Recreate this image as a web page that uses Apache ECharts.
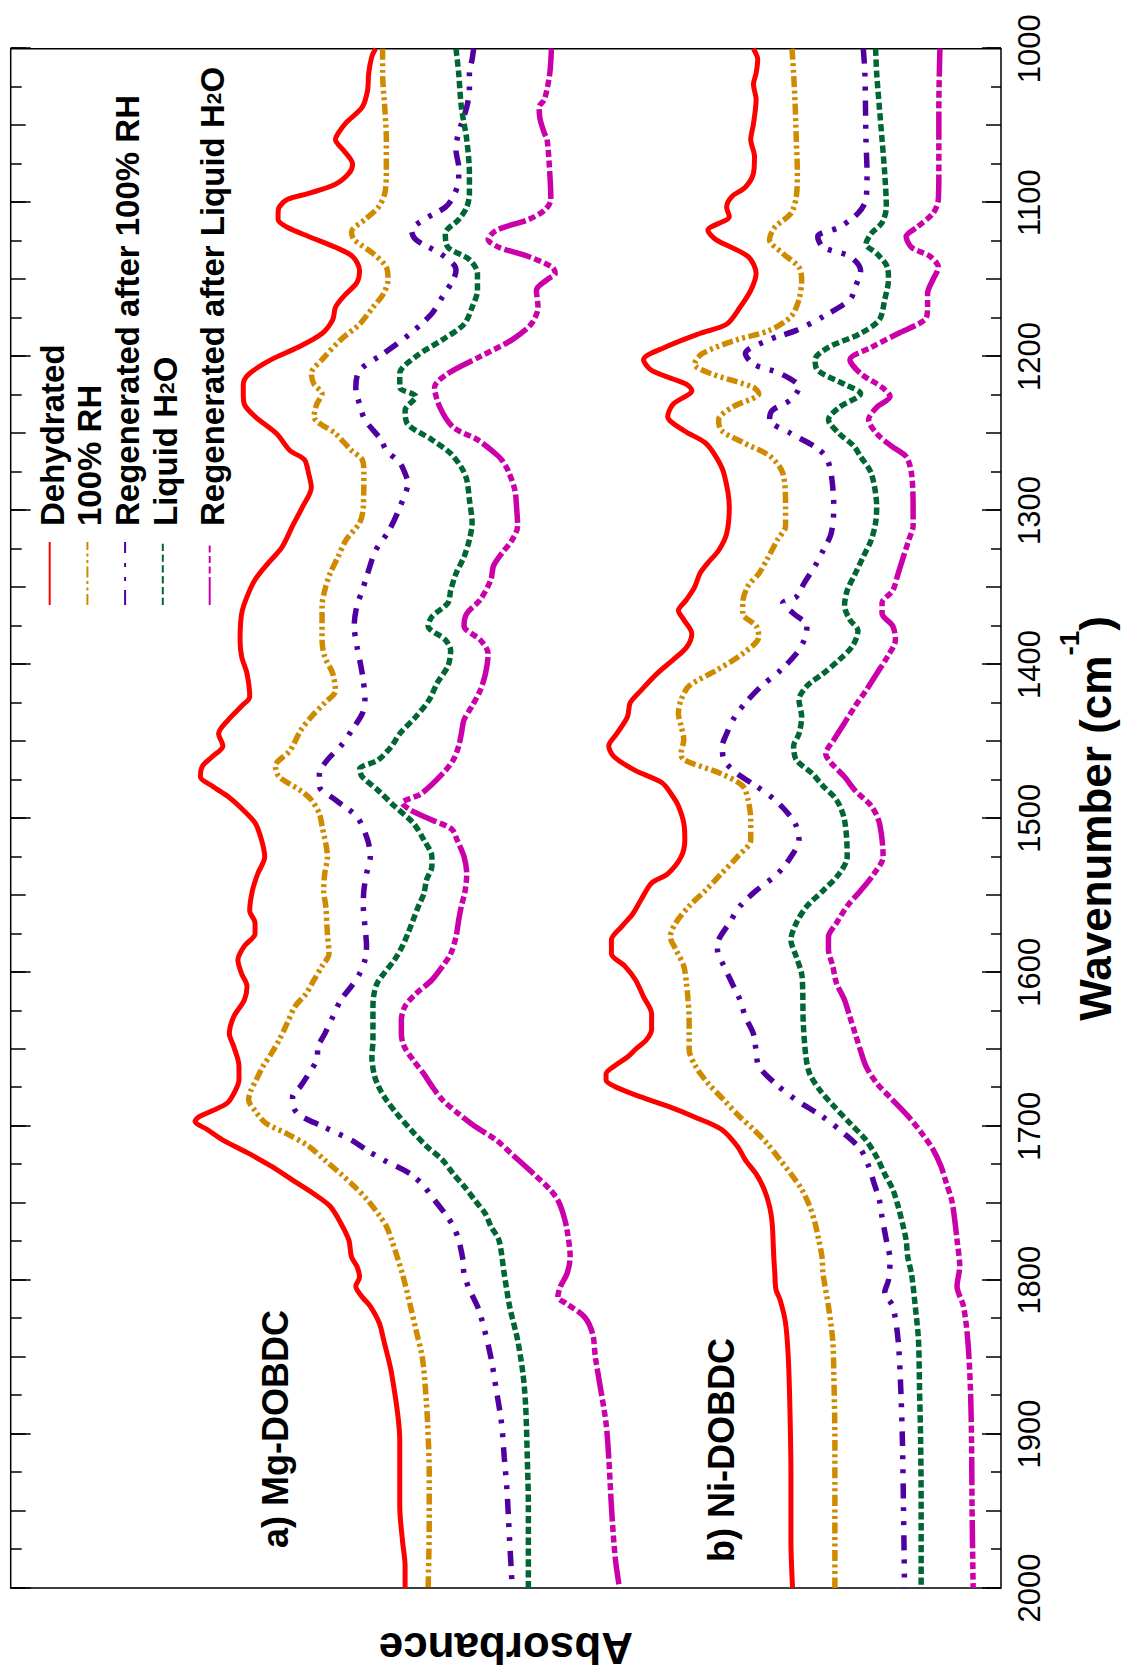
<!DOCTYPE html>
<html>
<head>
<meta charset="utf-8">
<title>FTIR spectra of Mg-DOBDC and Ni-DOBDC</title>
<script src="https://cdn.jsdelivr.net/npm/echarts@6/dist/echarts.min.js"></script>
<style>
  html, body { margin: 0; padding: 0; background: #fff; }
  #page { position: relative; width: 1124px; height: 1677px; overflow: hidden; background: #fff; }
  /* The spectrum is laid out in landscape and turned a quarter turn counter-clockwise */
  #chart {
    position: absolute; left: 0; top: 0;
    width: 1677px; height: 1124px;
    transform-origin: 0 0;
    transform: translate(0px, 1677px) rotate(-90deg);
  }
</style>
</head>
<body>
<div id="page"><div id="chart"></div></div>
<script>
// Wavenumber range (cm-1) and tick steps
const wnMin = 1000, wnMax = 2000;
const wnMajor = 100, wnMid = 50;

// Legend names
const names = ['Dehydrated', '100% RH', 'Regenerated after 100% RH', 'Liquid H2O', 'Regenerated after Liquid H2O'];

// ---- Mg-DOBDC spectra: [wavenumber, absorbance (a.u., stacked)] ----
const mgDehydrated = [[1000,1.167],[1005,1.174],[1016,1.180],[1027,1.182],[1038,1.192],[1048,1.222],[1055,1.237],[1059,1.242],[1066,1.227],[1075,1.210],[1081,1.217],[1088,1.242],[1094,1.292],[1098,1.332],[1103,1.347],[1107,1.349],[1111,1.349],[1116,1.332],[1122,1.292],[1129,1.242],[1135,1.210],[1144,1.197],[1152,1.202],[1161,1.227],[1168,1.242],[1176,1.247],[1185,1.267],[1194,1.312],[1202,1.362],[1211,1.402],[1218,1.414],[1224,1.414],[1231,1.412],[1239,1.392],[1250,1.352],[1261,1.327],[1267,1.300],[1276,1.292],[1285,1.287],[1298,1.304],[1310,1.322],[1324,1.342],[1334,1.367],[1345,1.392],[1356,1.407],[1367,1.417],[1384,1.420],[1395,1.417],[1406,1.407],[1421,1.402],[1427,1.417],[1436,1.442],[1445,1.460],[1453,1.452],[1460,1.472],[1466,1.490],[1473,1.494],[1479,1.472],[1486,1.442],[1492,1.422],[1503,1.392],[1514,1.380],[1525,1.374],[1536,1.387],[1547,1.397],[1560,1.402],[1568,1.392],[1575,1.392],[1583,1.412],[1592,1.424],[1601,1.417],[1609,1.407],[1618,1.412],[1629,1.432],[1640,1.440],[1648,1.432],[1661,1.422],[1670,1.422],[1679,1.432],[1685,1.444],[1690,1.472],[1694,1.497],[1697,1.504],[1702,1.482],[1709,1.452],[1718,1.402],[1726,1.362],[1735,1.322],[1744,1.282],[1752,1.252],[1763,1.232],[1774,1.217],[1785,1.212],[1791,1.202],[1798,1.197],[1804,1.204],[1811,1.192],[1817,1.177],[1828,1.160],[1839,1.152],[1861,1.137],[1904,1.122],[1947,1.122],[1969,1.117],[1986,1.112],[2000,1.112]];

const mgRH100 = [[1000,1.154],[1016,1.154],[1038,1.150],[1059,1.147],[1081,1.147],[1094,1.150],[1103,1.162],[1111,1.187],[1119,1.212],[1124,1.207],[1133,1.172],[1142,1.147],[1150,1.144],[1159,1.152],[1168,1.172],[1179,1.197],[1189,1.232],[1202,1.267],[1211,1.287],[1218,1.282],[1224,1.267],[1231,1.277],[1239,1.282],[1250,1.242],[1261,1.212],[1267,1.192],[1276,1.189],[1298,1.190],[1308,1.197],[1319,1.222],[1330,1.237],[1341,1.252],[1352,1.262],[1362,1.267],[1384,1.267],[1395,1.262],[1406,1.247],[1417,1.242],[1425,1.262],[1434,1.287],[1443,1.307],[1456,1.327],[1466,1.354],[1473,1.347],[1482,1.307],[1488,1.287],[1497,1.272],[1505,1.267],[1525,1.257],[1536,1.262],[1547,1.264],[1557,1.260],[1575,1.257],[1588,1.254],[1596,1.267],[1605,1.282],[1614,1.297],[1622,1.317],[1633,1.332],[1644,1.347],[1653,1.362],[1661,1.377],[1670,1.390],[1677,1.400],[1683,1.404],[1690,1.392],[1698,1.372],[1705,1.332],[1713,1.292],[1722,1.262],[1731,1.232],[1739,1.207],[1748,1.182],[1757,1.162],[1765,1.147],[1774,1.137],[1796,1.117],[1817,1.102],[1832,1.092],[1850,1.080],[1871,1.074],[1893,1.070],[1926,1.067],[1958,1.067],[2000,1.069]];

const mgRegenRH = [[1000,0.984],[1007,0.987],[1016,0.992],[1027,0.992],[1038,0.997],[1049,1.007],[1057,1.014],[1066,1.017],[1077,1.012],[1085,1.012],[1096,1.022],[1103,1.037],[1111,1.077],[1118,1.100],[1124,1.092],[1133,1.047],[1140,1.022],[1144,1.017],[1150,1.022],[1161,1.042],[1172,1.062],[1185,1.102],[1198,1.152],[1209,1.197],[1220,1.204],[1231,1.197],[1241,1.187],[1254,1.157],[1261,1.147],[1269,1.122],[1276,1.112],[1282,1.107],[1298,1.122],[1313,1.142],[1326,1.167],[1341,1.182],[1352,1.192],[1362,1.202],[1375,1.207],[1388,1.202],[1406,1.192],[1423,1.187],[1432,1.192],[1443,1.212],[1453,1.232],[1462,1.257],[1471,1.272],[1479,1.272],[1488,1.242],[1499,1.202],[1514,1.182],[1525,1.177],[1536,1.184],[1547,1.189],[1557,1.190],[1570,1.187],[1583,1.184],[1592,1.187],[1601,1.197],[1609,1.212],[1618,1.232],[1629,1.247],[1640,1.262],[1648,1.274],[1657,1.277],[1666,1.292],[1674,1.307],[1681,1.322],[1685,1.322],[1692,1.312],[1700,1.267],[1709,1.212],[1716,1.182],[1722,1.152],[1731,1.102],[1739,1.077],[1748,1.057],[1757,1.037],[1765,1.022],[1774,1.012],[1787,1.004],[1796,1.002],[1806,0.992],[1817,0.977],[1828,0.967],[1850,0.952],[1871,0.942],[1893,0.932],[1915,0.927],[1936,0.922],[1969,0.917],[2000,0.912]];

const mgLiquid = [[1000,1.017],[1016,1.012],[1038,1.007],[1059,0.997],[1081,0.992],[1094,0.992],[1103,0.997],[1111,1.012],[1120,1.037],[1129,1.032],[1137,0.992],[1146,0.977],[1157,0.977],[1168,0.987],[1179,1.002],[1189,1.042],[1200,1.092],[1211,1.122],[1220,1.122],[1226,1.092],[1235,1.112],[1244,1.107],[1254,1.062],[1263,1.027],[1272,1.007],[1280,0.997],[1293,0.992],[1308,0.987],[1319,0.992],[1330,1.002],[1341,1.017],[1352,1.027],[1360,1.032],[1369,1.062],[1375,1.069],[1384,1.037],[1391,1.027],[1401,1.032],[1412,1.052],[1423,1.067],[1434,1.092],[1445,1.122],[1453,1.137],[1462,1.162],[1468,1.197],[1473,1.192],[1482,1.162],[1492,1.132],[1503,1.097],[1514,1.077],[1525,1.062],[1531,1.062],[1540,1.072],[1549,1.077],[1557,1.087],[1566,1.097],[1575,1.107],[1583,1.117],[1592,1.132],[1601,1.152],[1607,1.164],[1614,1.170],[1622,1.172],[1633,1.172],[1644,1.172],[1655,1.174],[1666,1.170],[1674,1.162],[1683,1.147],[1692,1.127],[1702,1.102],[1713,1.072],[1722,1.042],[1731,1.022],[1739,1.002],[1748,0.982],[1757,0.962],[1765,0.952],[1774,0.937],[1796,0.927],[1817,0.917],[1839,0.902],[1861,0.892],[1882,0.887],[1915,0.884],[1947,0.882],[2000,0.882]];

const mgRegenLiquid = [[1000,0.839],[1016,0.842],[1033,0.852],[1038,0.862],[1046,0.860],[1055,0.852],[1059,0.847],[1081,0.842],[1098,0.840],[1105,0.852],[1111,0.882],[1118,0.942],[1124,0.957],[1129,0.937],[1135,0.882],[1142,0.837],[1146,0.832],[1150,0.847],[1157,0.867],[1168,0.864],[1179,0.877],[1189,0.912],[1200,0.972],[1211,1.032],[1220,1.057],[1233,1.047],[1246,1.022],[1254,0.977],[1262,0.947],[1267,0.932],[1274,0.920],[1287,0.907],[1298,0.904],[1310,0.902],[1319,0.912],[1328,0.932],[1336,0.947],[1345,0.952],[1358,0.972],[1367,0.997],[1375,1.002],[1384,0.972],[1393,0.957],[1406,0.962],[1417,0.972],[1427,0.987],[1436,1.002],[1445,1.007],[1453,1.012],[1462,1.022],[1471,1.042],[1484,1.082],[1490,1.117],[1495,1.100],[1501,1.062],[1507,1.025],[1514,1.015],[1525,1.002],[1536,0.997],[1547,1.000],[1557,1.007],[1566,1.012],[1577,1.017],[1588,1.027],[1596,1.042],[1605,1.062],[1614,1.092],[1622,1.112],[1631,1.119],[1640,1.119],[1648,1.114],[1657,1.097],[1666,1.077],[1674,1.062],[1683,1.042],[1692,1.012],[1700,0.982],[1709,0.942],[1720,0.907],[1731,0.872],[1741,0.842],[1748,0.827],[1757,0.817],[1767,0.810],[1785,0.804],[1796,0.810],[1804,0.822],[1811,0.827],[1815,0.812],[1824,0.777],[1835,0.762],[1850,0.757],[1871,0.747],[1893,0.737],[1915,0.732],[1947,0.727],[1980,0.720],[2000,0.712]];

// ---- Ni-DOBDC spectra ----
const niDehydrated = [[1000,0.462],[1007,0.454],[1016,0.457],[1023,0.462],[1033,0.457],[1049,0.462],[1059,0.467],[1070,0.460],[1081,0.462],[1090,0.477],[1096,0.502],[1103,0.512],[1109,0.507],[1118,0.547],[1124,0.532],[1135,0.472],[1146,0.457],[1157,0.467],[1168,0.487],[1179,0.512],[1185,0.562],[1194,0.627],[1202,0.667],[1209,0.652],[1218,0.587],[1222,0.577],[1231,0.612],[1239,0.622],[1248,0.592],[1256,0.552],[1265,0.532],[1276,0.517],[1298,0.507],[1315,0.512],[1326,0.527],[1334,0.547],[1341,0.562],[1350,0.572],[1358,0.587],[1365,0.602],[1371,0.592],[1380,0.577],[1389,0.587],[1397,0.612],[1406,0.642],[1417,0.672],[1425,0.692],[1434,0.697],[1445,0.717],[1453,0.732],[1460,0.722],[1469,0.682],[1477,0.632],[1486,0.612],[1492,0.602],[1503,0.592],[1514,0.590],[1525,0.597],[1536,0.622],[1542,0.652],[1553,0.672],[1562,0.687],[1570,0.707],[1579,0.727],[1588,0.727],[1596,0.702],[1605,0.682],[1616,0.667],[1627,0.652],[1637,0.652],[1644,0.662],[1650,0.682],[1655,0.697],[1661,0.722],[1666,0.737],[1670,0.737],[1674,0.722],[1681,0.672],[1687,0.622],[1694,0.572],[1702,0.522],[1713,0.492],[1722,0.477],[1731,0.457],[1741,0.442],[1752,0.432],[1763,0.427],[1785,0.424],[1796,0.422],[1806,0.420],[1813,0.412],[1828,0.402],[1850,0.397],[1882,0.394],[1926,0.392],[1969,0.392],[2000,0.389]];

const niRH100 = [[1000,0.390],[1016,0.387],[1038,0.384],[1059,0.382],[1081,0.380],[1096,0.382],[1107,0.392],[1116,0.422],[1124,0.432],[1133,0.407],[1142,0.377],[1150,0.372],[1163,0.377],[1174,0.392],[1183,0.432],[1189,0.492],[1198,0.557],[1205,0.572],[1211,0.542],[1220,0.462],[1224,0.452],[1233,0.502],[1241,0.527],[1248,0.522],[1256,0.480],[1265,0.430],[1276,0.407],[1298,0.402],[1310,0.402],[1319,0.417],[1332,0.437],[1341,0.452],[1349,0.472],[1360,0.482],[1367,0.482],[1375,0.457],[1382,0.452],[1393,0.482],[1404,0.532],[1414,0.582],[1423,0.597],[1432,0.602],[1440,0.597],[1449,0.592],[1458,0.597],[1462,0.592],[1471,0.522],[1479,0.482],[1488,0.472],[1501,0.467],[1514,0.467],[1525,0.492],[1536,0.522],[1547,0.552],[1557,0.582],[1568,0.607],[1577,0.617],[1585,0.607],[1596,0.592],[1607,0.587],[1618,0.584],[1629,0.582],[1640,0.582],[1650,0.582],[1661,0.570],[1672,0.547],[1683,0.517],[1694,0.487],[1702,0.462],[1711,0.437],[1722,0.412],[1731,0.392],[1741,0.372],[1752,0.357],[1763,0.347],[1774,0.340],[1785,0.334],[1796,0.332],[1817,0.322],[1839,0.314],[1861,0.312],[1904,0.310],[2000,0.310]];

const niRegenRH = [[1000,0.257],[1016,0.254],[1059,0.252],[1081,0.250],[1098,0.252],[1107,0.267],[1116,0.302],[1122,0.342],[1129,0.332],[1135,0.282],[1144,0.262],[1155,0.272],[1163,0.282],[1174,0.332],[1183,0.382],[1189,0.432],[1198,0.477],[1205,0.462],[1211,0.412],[1220,0.377],[1228,0.392],[1235,0.427],[1241,0.432],[1250,0.392],[1258,0.350],[1265,0.327],[1276,0.317],[1298,0.312],[1315,0.317],[1326,0.332],[1336,0.347],[1347,0.367],[1356,0.382],[1360,0.407],[1367,0.387],[1375,0.362],[1384,0.367],[1393,0.382],[1404,0.412],[1414,0.447],[1425,0.477],[1434,0.497],[1445,0.512],[1453,0.520],[1462,0.517],[1471,0.492],[1479,0.457],[1488,0.422],[1497,0.397],[1505,0.382],[1514,0.377],[1525,0.392],[1536,0.417],[1547,0.457],[1557,0.487],[1568,0.507],[1579,0.527],[1586,0.529],[1596,0.517],[1607,0.502],[1618,0.487],[1629,0.477],[1640,0.462],[1651,0.457],[1661,0.452],[1672,0.422],[1683,0.382],[1694,0.332],[1705,0.292],[1715,0.262],[1726,0.247],[1737,0.237],[1748,0.227],[1759,0.222],[1774,0.214],[1787,0.207],[1800,0.210],[1808,0.217],[1817,0.202],[1839,0.192],[1871,0.187],[1904,0.184],[1947,0.182],[2000,0.180]];

const niLiquid = [[1000,0.234],[1016,0.232],[1038,0.227],[1059,0.222],[1081,0.217],[1103,0.214],[1113,0.222],[1120,0.242],[1127,0.252],[1133,0.232],[1142,0.212],[1150,0.210],[1163,0.217],[1176,0.227],[1185,0.262],[1194,0.322],[1202,0.347],[1209,0.342],[1218,0.292],[1224,0.262],[1233,0.302],[1241,0.322],[1250,0.302],[1258,0.275],[1265,0.262],[1276,0.242],[1298,0.232],[1308,0.234],[1319,0.242],[1330,0.257],[1341,0.272],[1352,0.287],[1362,0.292],[1371,0.282],[1378,0.267],[1388,0.277],[1397,0.302],[1406,0.332],[1414,0.362],[1423,0.377],[1434,0.372],[1445,0.377],[1453,0.387],[1462,0.382],[1471,0.352],[1479,0.332],[1488,0.307],[1501,0.292],[1525,0.287],[1536,0.302],[1547,0.332],[1557,0.362],[1568,0.382],[1579,0.392],[1590,0.382],[1601,0.372],[1612,0.370],[1633,0.369],[1655,0.364],[1666,0.357],[1677,0.337],[1687,0.312],[1698,0.282],[1709,0.252],[1720,0.232],[1731,0.217],[1741,0.202],[1752,0.192],[1763,0.184],[1774,0.177],[1785,0.174],[1796,0.167],[1817,0.160],[1839,0.154],[1871,0.152],[1904,0.150],[1947,0.149],[2000,0.149]];

const niRegenLiquid = [[1000,0.114],[1038,0.116],[1081,0.116],[1098,0.117],[1107,0.127],[1116,0.157],[1122,0.177],[1129,0.167],[1135,0.132],[1142,0.117],[1150,0.127],[1159,0.137],[1168,0.137],[1176,0.142],[1185,0.192],[1194,0.242],[1202,0.282],[1211,0.262],[1220,0.222],[1226,0.207],[1233,0.232],[1241,0.247],[1250,0.232],[1258,0.205],[1265,0.177],[1276,0.167],[1298,0.164],[1310,0.164],[1319,0.172],[1330,0.182],[1341,0.192],[1352,0.202],[1360,0.222],[1367,0.222],[1375,0.202],[1384,0.197],[1395,0.212],[1406,0.232],[1417,0.252],[1427,0.272],[1438,0.292],[1449,0.312],[1458,0.327],[1464,0.317],[1473,0.292],[1482,0.272],[1492,0.242],[1503,0.227],[1525,0.220],[1536,0.237],[1547,0.262],[1557,0.287],[1568,0.307],[1577,0.322],[1585,0.322],[1596,0.314],[1607,0.307],[1618,0.292],[1629,0.282],[1640,0.272],[1651,0.262],[1661,0.252],[1672,0.232],[1683,0.202],[1694,0.172],[1705,0.147],[1715,0.127],[1726,0.112],[1737,0.102],[1748,0.092],[1759,0.087],[1774,0.082],[1791,0.077],[1804,0.082],[1817,0.070],[1839,0.062],[1871,0.057],[1904,0.055],[1947,0.054],[2000,0.052]];

// Sample labels
const sampleLabels = ['a) Mg-DOBDC', 'b) Ni-DOBDC'];

// ---- styling ----
const FONT = '"Liberation Sans", Arial, Helvetica, sans-serif';
const styles = [
  { color: '#ff0000', dash: 'solid', width: 5 },
  { color: '#d08a00', dash: [11, 3.5, 3, 3.5, 3, 3.5], width: 5.5 },
  { color: '#5000a0', dash: [15, 9, 4, 10, 4, 10], width: 5.5 },
  { color: '#006633', dash: [7.3, 3.5], width: 5.5 },
  { color: '#cc00aa', dash: [28, 3.5, 7, 3.5, 7, 3.5, 7, 3.5], width: 5.5 }
];

const groups = [
  [mgDehydrated, mgRH100, mgRegenRH, mgLiquid, mgRegenLiquid],
  [niDehydrated, niRH100, niRegenRH, niLiquid, niRegenLiquid]
];

const series = [];
groups.forEach(function (grp) {
  grp.forEach(function (data, i) {
    series.push({
      type: 'line',
      name: names[i],
      data: data,
      xAxisIndex: 0,
      yAxisIndex: 0,
      symbol: 'none',
      showSymbol: false,
      smooth: 0.3,
      silent: true,
      lineStyle: { color: styles[i].color, width: styles[i].width, type: styles[i].dash },
      itemStyle: { color: styles[i].color }
    });
  });
});

const tickStyle = { color: '#000', width: 1.5 };

function wnAxis(position, step, len, extra) {
  return Object.assign({
    type: 'value',
    position: position,
    min: wnMin,
    max: wnMax,
    interval: step,
    inverse: true,
    axisLine: { show: false, onZero: false },
    axisTick: { show: true, inside: true, length: len, lineStyle: tickStyle },
    axisLabel: { show: false },
    splitLine: { show: false },
    minorSplitLine: { show: false }
  }, extra || {});
}

const legendText = {
  color: '#000',
  fontSize: 33,
  fontWeight: 'bold',
  fontFamily: FONT,
  lineHeight: 28,
  padding: [0, 0, 0, 11],
  rich: {
    n: { color: '#000', fontSize: 33, fontWeight: 'bold', fontFamily: FONT, lineHeight: 28, verticalAlign: 'top' },
    s: { color: '#000', fontSize: 21, fontWeight: 'bold', fontFamily: FONT, lineHeight: 2, verticalAlign: 'bottom' }
  }
};

function legendFormatter(name) {
  if (name.indexOf('H2O') >= 0) {
    const parts = name.split('H2O');
    return '{n|' + parts[0] + 'H}{s|2}{n|O}';
  }
  return '{n|' + name + '}';
}

function legendBlock(items, top) {
  return {
    data: items,
    orient: 'vertical',
    left: 1071,
    top: top,
    padding: 0,
    itemGap: 4.7,
    itemWidth: 63,
    itemHeight: 14,
    selectedMode: false,
    itemStyle: { opacity: 0 },
    formatter: legendFormatter,
    textStyle: legendText
  };
}

const option = {
  animation: false,
  backgroundColor: '#fff',
  grid: {
    left: 89, right: 48.7, top: 10.7, bottom: 123,
    show: true, borderColor: '#000', borderWidth: 1.5,
    backgroundColor: 'transparent',
    containLabel: false,
    outerBoundsMode: 'none'
  },
  xAxis: [
    wnAxis('bottom', wnMajor, 19, {
      axisLabel: {
        show: true, fontSize: 31, color: '#000', fontFamily: FONT, margin: 13,
        showMinLabel: true, showMaxLabel: true,
        formatter: function (v) { return String(v); }
      },
      name: '{a|Wavenumber (cm}{s|-1}{a|)}',
      nameLocation: 'middle',
      nameGap: 54,
      nameTextStyle: {
        color: '#000',
        rich: {
          a: { color: '#000', fontSize: 44, fontWeight: 'bold', fontFamily: FONT, lineHeight: 80 },
          s: { color: '#000', fontSize: 28, fontWeight: 'bold', fontFamily: FONT, lineHeight: 28, verticalAlign: 'top' }
        }
      }
    }),
    wnAxis('bottom', wnMid, 15, { minorTick: { show: true, splitNumber: 2, length: 10, lineStyle: tickStyle } }),
    wnAxis('top', wnMajor, 20),
    wnAxis('top', wnMid, 15, { minorTick: { show: true, splitNumber: 2, length: 11, lineStyle: tickStyle } })
  ],
  yAxis: {
    type: 'value',
    min: 0,
    max: 1.848,
    axisLine: { show: false, onZero: false },
    axisTick: { show: false },
    axisLabel: { show: false },
    splitLine: { show: false },
    name: 'Absorbance',
    nameLocation: 'middle',
    nameGap: 40,
    nameTextStyle: { color: '#000', fontSize: 44, fontWeight: 'bold', fontFamily: FONT, lineHeight: 40 }
  },
  legend: [
    legendBlock(names.slice(0, 4), 35.7),
    legendBlock(names.slice(4), 195.7)
  ],
  graphic: [
    { type: 'text', x: 129, y: 275, silent: true,
      style: { text: sampleLabels[0], fill: '#000', font: 'bold 36px ' + FONT, verticalAlign: 'middle', textVerticalAlign: 'middle', align: 'left' } },
    { type: 'text', x: 115, y: 721, silent: true,
      style: { text: sampleLabels[1], fill: '#000', font: 'bold 36px ' + FONT, verticalAlign: 'middle', textVerticalAlign: 'middle', align: 'left' } }
  ],
  series: series
};

const chart = echarts.init(document.getElementById('chart'), null, { renderer: 'svg' });
chart.setOption(option);
</script>
</body>
</html>
